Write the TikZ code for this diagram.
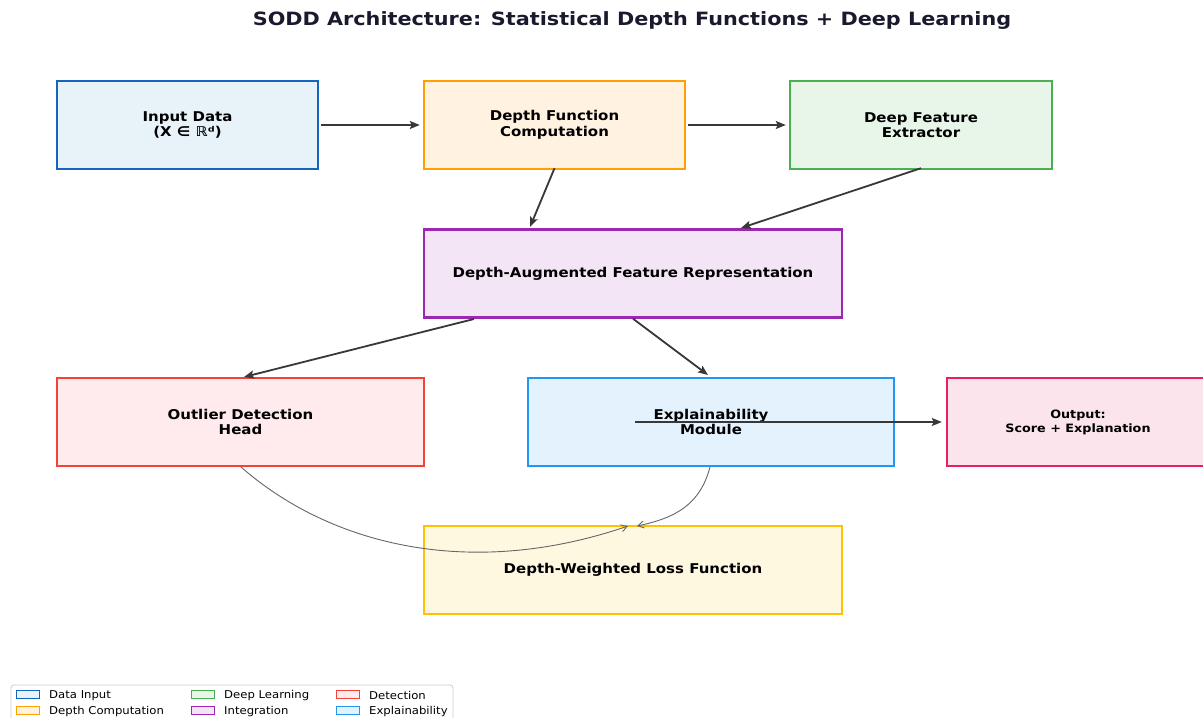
\documentclass[tikz,border=0pt]{standalone}
\usepackage{fontspec}
\setmainfont{DejaVu Sans}
\newfontfamily\wfont[FakeStretch=1.11]{DejaVu Sans}
\newfontfamily\tfont[FakeStretch=1.135]{DejaVu Sans}
\newfontfamily\lfont[FakeStretch=1.08]{DejaVu Sans}
\usetikzlibrary{arrows.meta}
\definecolor{cIn}{HTML}{1565C0}\definecolor{fIn}{HTML}{E8F3F9}
\definecolor{cDe}{HTML}{FFA000}\definecolor{fDe}{HTML}{FFF2E0}
\definecolor{cDL}{HTML}{4CAF50}\definecolor{fDL}{HTML}{E8F5E9}
\definecolor{cIg}{HTML}{9C27B0}\definecolor{fIg}{HTML}{F3E5F5}
\definecolor{cDt}{HTML}{F44336}\definecolor{fDt}{HTML}{FFEBEE}
\definecolor{cEx}{HTML}{2196F3}\definecolor{fEx}{HTML}{E3F2FD}
\definecolor{cOu}{HTML}{E91E63}\definecolor{fOu}{HTML}{FCE4EC}
\definecolor{cLo}{HTML}{FFC107}\definecolor{fLo}{HTML}{FFF8E1}
\definecolor{titlec}{HTML}{1A1A2E}
\tikzset{
  box/.style={draw=#1, line width=2.4pt, minimum height=88pt, inner sep=0pt, align=center,
     font=\wfont\fontsize{13.5}{15.5}\selectfont\bfseries},
  flow/.style={draw=black!78, line width=1.8pt, -{Stealth[length=10pt,width=8pt,inset=2pt]}},
  thin/.style={draw=black!60, line width=0.9pt, -{Straight Barb[length=6pt,width=7pt]}},
  patch/.style={draw=#1, line width=1pt, minimum width=23pt, minimum height=8pt, inner sep=0pt},
  legtext/.style={anchor=west, font=\lfont\fontsize{10.8}{12}\selectfont, inner sep=0pt},
}
\begin{document}
\begin{tikzpicture}[x=1pt,y=-1pt]
\useasboundingbox (0,0) rectangle (1203,718);
\clip (0,0) rectangle (1203,718);
\fill[white] (0,0) rectangle (1203,718);
\node[font=\tfont\fontsize{18.3}{20}\selectfont\bfseries, text=titlec] (title) at (632,20.5) {SODD Architecture: Statistical Depth Functions + Deep Learning};

\node[box=cIn, fill=fIn, minimum width=261pt] (in) at (187.5,125) {Input Data\\(X ∈ ℝᵈ)};
\node[box=cDe, fill=fDe, minimum width=261pt] (dep) at (554.5,125) {Depth Function\\Computation};
\node[box=cDL, fill=fDL, minimum width=262pt] (dl) at (921,125) {Deep Feature\\Extractor};
\node[box=cIg, fill=fIg, minimum width=418pt] (aug) at (633,273.5) {Depth-Augmented Feature Representation};
\node[box=cDt, fill=fDt, minimum width=367pt] (det) at (240.5,422) {Outlier Detection\\Head};
\node[box=cEx, fill=fEx, minimum width=366pt] (ex) at (711,422) {Explainability\\Module};
\node[box=cOu, fill=fOu, minimum width=262pt, font=\wfont\fontsize{11.5}{14}\selectfont\bfseries] (out) at (1078,422) {Output:\\Score + Explanation};
\node[box=cLo, fill=fLo, minimum width=418pt] (loss) at (633,570) {Depth-Weighted Loss Function};

\coordinate (exs) at (635,422);
\draw[flow] ([xshift=2pt]in.east) -- ([xshift=-3pt]dep.west);
\draw[flow] ([xshift=2pt]dep.east) -- ([xshift=-3pt]dl.west);
\draw[flow] ([yshift=2pt]dep.south) -- (530,227) coordinate (a3);
\draw[flow] ([yshift=2pt]dl.south) -- (741,228) coordinate (a4);
\draw[flow] (474,319) coordinate (a5) -- (244,377) coordinate (a6);
\draw[flow] (aug.south) -- (708,375) coordinate (a7);
\draw[flow] (exs) -- ([xshift=-4pt]out.west);
\draw[thin] (241,467) coordinate (c1) .. controls (330,545) and (470,580) .. (628,526) coordinate (c2);
\draw[thin] (710,467) coordinate (c3) .. controls (700,505) and (675,518) .. (637,526) coordinate (c4);

% legend
\draw[draw=black!20, fill=white, rounded corners=3pt, line width=0.8pt] (11,685) rectangle (453,724);
\node[patch=cIn, fill=fIn] (p1) at (27.5,694) {};
\node[legtext] (l1) at (49,695.5) {Data Input};
\node[patch=cDe, fill=fDe] (p2) at (27.5,710) {};
\node[legtext] (l2) at (49,711.5) {Depth Computation};
\node[patch=cDL, fill=fDL] (p3) at (202.5,694) {};
\node[legtext] (l3) at (224,695.5) {Deep Learning};
\node[patch=cIg, fill=fIg] (p4) at (202.5,710) {};
\node[legtext] (l4) at (224,711.5) {Integration};
\node[patch=cDt, fill=fDt] (p5) at (347.5,694) {};
\node[legtext] (l5) at (369,695.5) {Detection};
\node[patch=cEx, fill=fEx] (p6) at (347.5,710) {};
\node[legtext] (l6) at (369,711.5) {Explainability};
\end{tikzpicture}
\end{document}
